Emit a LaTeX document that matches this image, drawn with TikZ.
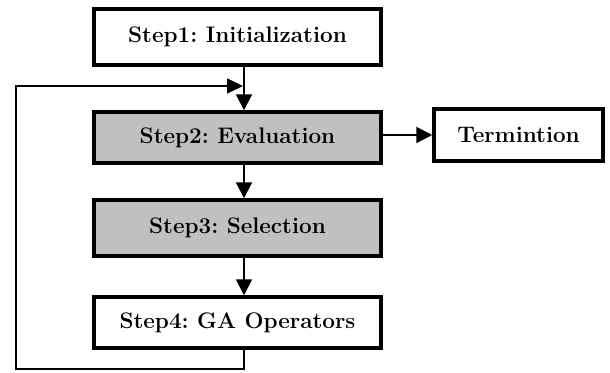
\documentclass[tikz,border=0pt]{standalone}
\usepackage{fontspec}
\usetikzlibrary{arrows.meta}
\frenchspacing
\begin{document}
\begin{tikzpicture}[x=1pt,y=-1pt,
  stepbox/.style={draw=black,line width=3.5pt,minimum width=287pt,inner sep=0pt,
     font=\fontsize{22.5}{26}\selectfont\bfseries,anchor=center},
  graybox/.style={stepbox,fill=boxgray},
  conn/.style={line width=2pt,-{Triangle[length=16pt,width=16pt]}},
  fbline/.style={line width=1.6pt,-{Triangle[length=16pt,width=15pt]}}]
\definecolor{boxgray}{HTML}{C0C0C0}
\useasboundingbox (0,0) rectangle (610,372);
\node[stepbox,minimum height=56pt] (s1) at (237.5,37) {Step1: Initialization};
\node[graybox,minimum height=51pt] (s2) at (237.5,137.5) {Step2: Evaluation};
\node[graybox,minimum height=56pt] (s3) at (237.5,228) {Step3: Selection};
\node[stepbox,minimum height=51pt] (s4) at (237.5,322.5) {Step4: GA Operators};
\node[stepbox,minimum width=169pt,minimum height=52pt] (t) at (518.5,135) {Termintion};
\coordinate (ax) at (244,0);
\coordinate (fb) at (16,369);
\coordinate (tip) at (243,86);
\draw[conn] (s1.south -| ax) -- (s2.north -| ax);
\draw[conn] (s2.south -| ax) -- (s3.north -| ax);
\draw[conn] (s3.south -| ax) -- (s4.north -| ax);
\draw[conn] (s2.east |- t.west) -- (t.west);
\draw[fbline] (s4.south -| ax) |- (fb) |- (tip);
\end{tikzpicture}
\end{document}
